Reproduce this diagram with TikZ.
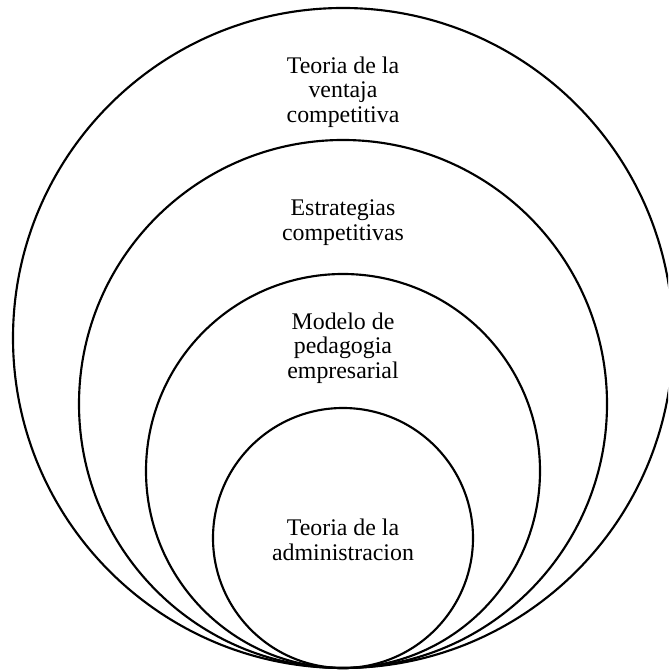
\documentclass[tikz,border=0pt]{standalone}
\usepackage{fontspec}
\setmainfont{Liberation Serif}
\tikzset{
  ring/.style={draw=black, line width=1.6pt},
  ringtext/.style={align=center, anchor=center, font=\fontsize{17.9}{18.5}\selectfont, inner sep=0pt}
}
\begin{document}
\begin{tikzpicture}[x=0.75pt, y=0.75pt]
            \useasboundingbox (0,0) rectangle (668,670);
            \clip (0,0) rectangle (668,670);
            \draw[ring] (343, 332) circle (330);
            \draw[ring] (343, 266) circle (264);
            \draw[ring] (343, 199) circle (197);
            \draw[ring] (343, 132) circle (130);
            \node[ringtext] (ventaja)        at (343, 578.0) {Teoria de la\\ventaja\\competitiva};
            \node[ringtext] (estrategias)    at (343, 447.5) {Estrategias\\competitivas};
            \node[ringtext] (pedagogia)      at (343, 322.0) {Modelo de\\pedagogia\\empresarial};
            \node[ringtext] (administracion) at (343, 130.0) {Teoria de la\\administracion};
        \end{tikzpicture}
\end{document}
